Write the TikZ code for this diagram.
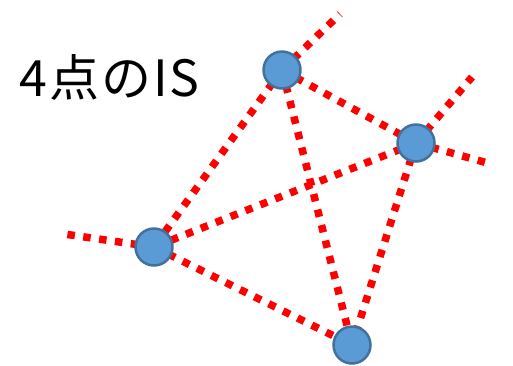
\documentclass[tikz,border=0pt]{standalone}
\usepackage{fontspec}
\newfontfamily\jpfont{Noto Sans CJK JP}
\usetikzlibrary{backgrounds}
\definecolor{ptfill}{HTML}{5B9BD5}
\definecolor{ptline}{HTML}{41719C}
\tikzset{
	pt/.style={circle, fill=ptfill, draw=ptline, line width=2.5pt, minimum size=37pt, inner sep=0pt},
	isline/.style={red, line width=7.5pt, dash pattern=on 7.5pt off 8.5pt}
}
\begin{document}
\begin{tikzpicture}[x=1pt, y=-1pt, line join=round]
			\useasboundingbox (0,0) rectangle (513,365);
			% Các điểm
			\node[pt] (P) at (282,70) {};
			\node[pt] (Q) at (416,143) {};
			\node[pt] (R) at (154,247) {};
			\node[pt] (S) at (352,345) {};
			% Các đầu mút tự do
			\coordinate (Pe) at (340,14);
			\coordinate (Qe) at (472,77);
			\coordinate (Qf) at (491,164);
			\coordinate (Re) at (64,234);
			
			% Vẽ các đường chấm
			\begin{scope}[on background layer]
				\draw[isline] (P.center) -- (Pe);
				\draw[isline] (Q.center) -- (Qe);
				\draw[isline] (Q.center) -- (Qf);
				\draw[isline] (R.center) -- (Re);
				\draw[isline] (P.center) -- (Q.center);
				\draw[isline] (P.center) -- (R.center);
				\draw[isline] (P.center) -- (S.center);
				\draw[isline] (Q.center) -- (R.center);
				\draw[isline] (Q.center) -- (S.center);
				\draw[isline] (R.center) -- (S.center);
			\end{scope}
			
			% Tiêu đề
			\node[anchor=base west, inner sep=0pt, font=\jpfont\fontsize{50}{55}\selectfont] (title) at (19,96) {4\kern3pt点\kern2pt の\kern2pt I\kern1pt S};
\end{tikzpicture}
\end{document}
